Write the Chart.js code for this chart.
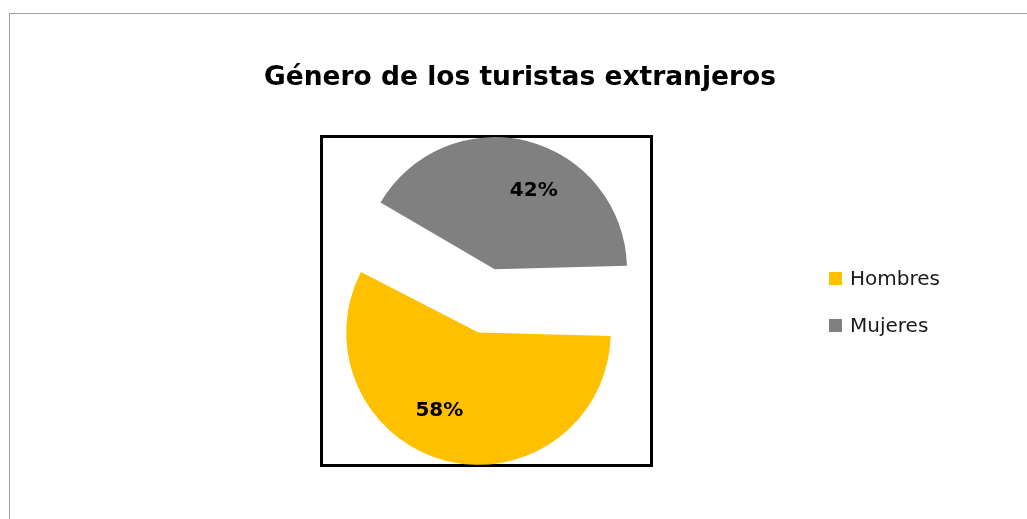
<!DOCTYPE html>
<html>
<head>
<meta charset="utf-8">
<script src="https://cdn.jsdelivr.net/npm/chart.js@4.4.1/dist/chart.umd.min.js"></script>
<style>
    body { margin: 0; background: #fff; overflow: hidden; }
    #frame { position: absolute; left: 9px; top: 13px; width: 1100px; height: 600px;
             border-top: 1px solid #a0a0a0; border-left: 1px solid #a0a0a0; }
    #plotBox { position: absolute; left: 320px; top: 135px; width: 333px; height: 332px;
               box-sizing: border-box; border: 3px solid #000; }
    #chart { position: absolute; left: 0; top: 0; }
</style>
</head>
<body>
<div id="frame"></div>
<div id="plotBox"></div>
<canvas id="chart" width="1027" height="519"></canvas>
<script>
const titleText = "Género de los turistas extranjeros";
const categories = ["Hombres", "Mujeres"];
const shares = [58, 42];
const sliceColors = ["#FFC000", "#808080"];

// percentage labels on the slices (datalabels plugin is not available offline)
const sliceLabels = {
    id: "sliceLabels",
    afterDatasetsDraw(chart) {
        const ctx = chart.ctx;
        const arcs = chart.getDatasetMeta(0).data;
        ctx.save();
        ctx.font = "bold 20px 'DejaVu Sans'";
        ctx.fillStyle = "#000";
        ctx.textAlign = "center";
        ctx.textBaseline = "middle";
        arcs.forEach((a, i) => {
            const mid = (a.startAngle + a.endAngle) / 2;
            const shift = (a.options.offset || 0) / 4;
            const circ = a.endAngle - a.startAngle;
            const r = a.outerRadius + shift * (1 - Math.sin(Math.min(Math.PI, circ)));
            const cx = a.x + Math.cos(mid) * shift;
            const cy = a.y + Math.sin(mid) * shift;
            const ang = mid + 12.2 * Math.PI / 180;
            ctx.fillText(shares[i] + "%", cx + Math.cos(ang) * r * 0.66, cy + Math.sin(ang) * r * 0.66);
        });
        ctx.restore();
    }
};

// title and legend sit off-centre from the pie, so they are drawn here
const titleAndLegend = {
    id: "titleAndLegend",
    afterDraw(chart) {
        const ctx = chart.ctx;
        ctx.save();
        ctx.font = "bold 26.5px 'DejaVu Sans'";
        ctx.fillStyle = "#000";
        ctx.textAlign = "center";
        ctx.textBaseline = "alphabetic";
        ctx.fillText(titleText, 520, 85);

        const items = Chart.overrides.pie.plugins.legend.labels.generateLabels(chart);
        ctx.font = "20px 'DejaVu Sans'";
        ctx.textAlign = "left";
        ctx.textBaseline = "middle";
        items.forEach((it, i) => {
            const y = 272 + i * 47;
            ctx.fillStyle = it.fillStyle;
            ctx.fillRect(829, y, 13, 13);
            ctx.fillStyle = "#1a1a1a";
            ctx.fillText(it.text, 850, y + 8);
        });
        ctx.restore();
    }
};

new Chart(document.getElementById("chart"), {
    type: "pie",
    data: {
        labels: categories,
        datasets: [{
            data: shares,
            backgroundColor: sliceColors,
            borderWidth: 0,
            offset: [89, 172],
            radius: 110,
            clip: false
        }]
    },
    options: {
        responsive: false,
        animation: false,
        events: [],
        rotation: 90,
        layout: { padding: { left: 263, right: 322, top: 161, bottom: 58 } },
        plugins: {
            tooltip: { enabled: false },
            legend: { display: false },
            title: { display: false }
        }
    },
    plugins: [sliceLabels, titleAndLegend]
});
</script>
</body>
</html>
